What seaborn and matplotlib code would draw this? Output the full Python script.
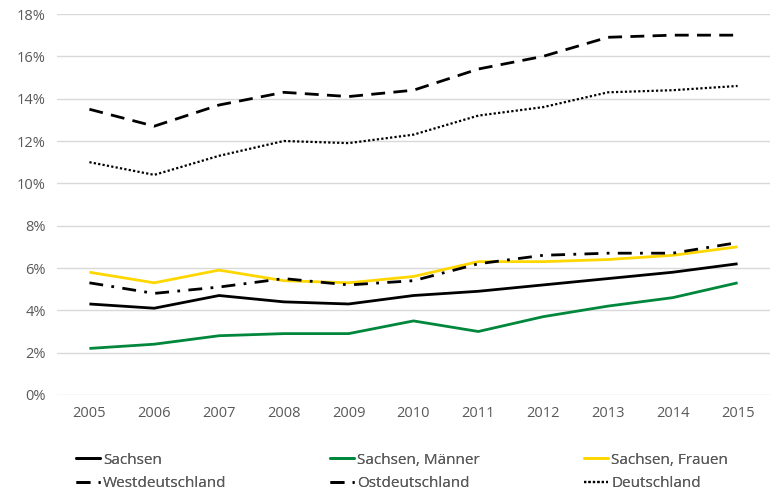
import pandas as pd
import seaborn as sns
import matplotlib.pyplot as plt
from matplotlib.ticker import PercentFormatter

# Data (share in %)
years = [2005, 2006, 2007, 2008, 2009, 2010, 2011, 2012, 2013, 2014, 2015]
sachsen = [4.3, 4.1, 4.7, 4.4, 4.3, 4.7, 4.9, 5.2, 5.5, 5.8, 6.2]
sachsen_maenner = [2.2, 2.4, 2.8, 2.9, 2.9, 3.5, 3.0, 3.7, 4.2, 4.6, 5.3]
sachsen_frauen = [5.8, 5.3, 5.9, 5.4, 5.3, 5.6, 6.3, 6.3, 6.4, 6.6, 7.0]
westdeutschland = [13.5, 12.7, 13.7, 14.3, 14.1, 14.4, 15.4, 16.0, 16.9, 17.0, 17.0]
ostdeutschland = [5.3, 4.8, 5.1, 5.5, 5.2, 5.4, 6.2, 6.6, 6.7, 6.7, 7.2]
deutschland = [11.0, 10.4, 11.3, 12.0, 11.9, 12.3, 13.2, 13.6, 14.3, 14.4, 14.6]

series = {
    "Sachsen": sachsen,
    "Sachsen, Männer": sachsen_maenner,
    "Sachsen, Frauen": sachsen_frauen,
    "Westdeutschland": westdeutschland,
    "Ostdeutschland": ostdeutschland,
    "Deutschland": deutschland,
}

rows = []
for name, vals in series.items():
    for y, v in zip(years, vals):
        rows.append({"Jahr": y, "Wert": v, "Reihe": name})
df = pd.DataFrame(rows)

colors = {
    "Sachsen": "#000000",
    "Sachsen, Männer": "#00873C",
    "Sachsen, Frauen": "#FFD700",
    "Westdeutschland": "#000000",
    "Ostdeutschland": "#000000",
    "Deutschland": "#000000",
}
dashes = {
    "Sachsen": "",
    "Sachsen, Männer": "",
    "Sachsen, Frauen": "",
    "Westdeutschland": (5, 3),
    "Ostdeutschland": (5, 3, 1, 3),
    "Deutschland": (1, 1),
}

sns.set_style("white")
plt.rcParams["font.family"] = ["Open Sans", "DejaVu Sans"]
text_col = "#595959"

fig = plt.figure(figsize=(7.79, 4.95), dpi=100)
ax = fig.add_axes([57 / 779, 1 - 395 / 495, 713 / 779, 381 / 495])

sns.lineplot(data=df, x="Jahr", y="Wert", hue="Reihe", style="Reihe",
             palette=colors, dashes=dashes, linewidth=2, ax=ax, legend=False)
for line in ax.get_lines():
    line.set_solid_capstyle("butt")

# thinner dotted line for Deutschland
ax.get_lines()[5].set_linewidth(1.6)

ax.set_xlim(2004.5, 2015.5)
ax.set_ylim(0, 18)
ax.set_yticks(range(0, 19, 2))
ax.yaxis.set_major_formatter(PercentFormatter(decimals=0))
ax.set_xticks(years)
ax.grid(axis="y", color="#d9d9d9", linewidth=1)
ax.set_axisbelow(True)
for s in ax.spines.values():
    s.set_visible(False)
ax.set_xlabel("")
ax.set_ylabel("")
ax.tick_params(axis="both", length=0, labelsize=10.5, labelcolor=text_col, pad=8)

# legend: three columns placed separately, two rows each
columns = [["Sachsen", "Westdeutschland"],
           ["Sachsen, Männer", "Ostdeutschland"],
           ["Sachsen, Frauen", "Deutschland"]]
col_x = [62, 316, 570]
for names, x0 in zip(columns, col_x):
    handles = []
    for name in names:
        d = dashes[name]
        lw = 1.6 if name == "Deutschland" else 2
        if d:
            h = plt.Line2D([], [], color=colors[name], linewidth=lw, dashes=d, label=name)
        else:
            h = plt.Line2D([], [], color=colors[name], linewidth=lw, linestyle="-", label=name)
        handles.append(h)
    leg = fig.legend(handles=handles, loc="upper left",
                     bbox_to_anchor=(x0 / 779, 1 - 439 / 495),
                     frameon=False, fontsize=11, labelcolor=text_col,
                     handlelength=1.6, handletextpad=0.2, labelspacing=0.55)
    fig.add_artist(leg)

fig.savefig("out.png", dpi=100)
